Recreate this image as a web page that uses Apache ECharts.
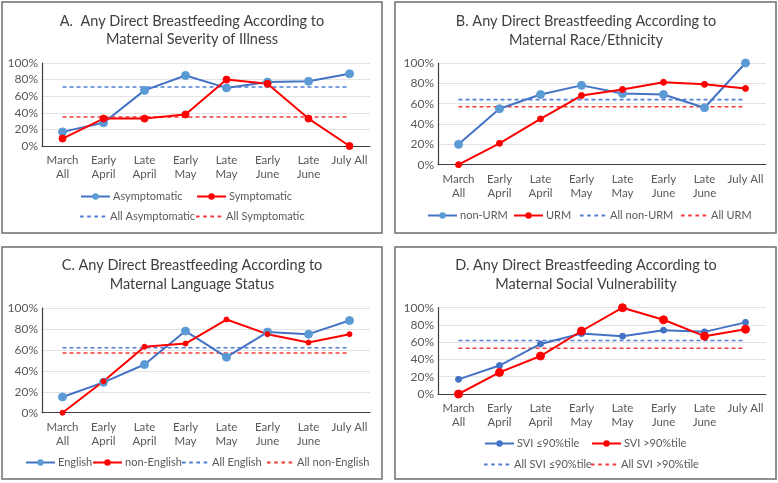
<!DOCTYPE html>
<html>
<head>
<meta charset="utf-8">
<script src="https://cdn.jsdelivr.net/npm/echarts@6/dist/echarts.min.js"></script>
<style>
html,body{margin:0;padding:0;background:#fff;}
#c{width:778px;height:483px;}
</style>
</head>
<body>
<div id="c"></div>
<script>
// ---- Data ----
const categories = ['March\nAll', 'Early\nApril', 'Late\nApril', 'Early\nMay', 'Late\nMay', 'Early\nJune', 'Late\nJune', 'July All'];
const yTicks = [0, 20, 40, 60, 80, 100];

// Panel A
const asymptomatic = [17, 28, 67, 85, 70, 77, 78, 87];
const symptomatic = [9, 33, 33, 38, 80, 75, 33, 0];
const allAsymptomatic = 71;
const allSymptomatic = 35;

// Panel B
const nonURM = [20, 55, 69, 78, 70, 69, 56, 100];
const URM = [0, 21, 45, 68, 74, 81, 79, 75];
const allNonURM = 64;
const allURM = 57;

// Panel C
const english = [15, 29, 46, 78, 53, 77, 75, 88];
const nonEnglish = [0, 30, 63, 66, 89, 75, 67, 75];
const allEnglish = 62;
const allNonEnglish = 57;

// Panel D
const sviLow = [17, 33, 58, 70, 67, 74, 72, 83];
const sviHigh = [0, 25, 44, 73, 100, 86, 67, 75];
const allSviLow = 62;
const allSviHigh = 53;

// ---- Styling / layout ----
const FONT = 'Lato';
const BLUE = '#4472C4';
const LBLUE = '#5B9BD5';
const RED = '#FF0000';
const DBLUE = '#4F7FD6';
const DRED = '#F23A3A';
const TXT = '#595959';
const DASH_ICON = 'path://M0,0h4v2h-4zM8,0h4v2h-4zM16,0h4v2h-4zM24,0h4v2h-4z';

const panels = [
  {title: 'A.  Any Direct Breastfeeding According to\nMaternal Severity of Illness', tx: 192, ty: 12,
   grid: {left: 42, top: 63, width: 328, height: 83},
   box: [2, 2, 380, 231],
   s1: {name: 'Asymptomatic', data: asymptomatic, color: BLUE, mcolor: LBLUE, size: 8},
   s2: {name: 'Symptomatic', data: symptomatic, color: RED, mcolor: RED, size: 7},
   d1: {name: 'All Asymptomatic', value: allAsymptomatic},
   d2: {name: 'All Symptomatic', value: allSymptomatic},
   leg: [[80, 198], [196, 198], [80, 218], [196, 218]]},
  {title: 'B. Any Direct Breastfeeding According to\nMaternal Race/Ethnicity', tx: 586, ty: 12.5,
   grid: {left: 438, top: 63, width: 328, height: 101.7},
   box: [395, 2, 381, 231],
   s1: {name: 'non-URM', data: nonURM, color: BLUE, mcolor: LBLUE, size: 8},
   s2: {name: 'URM', data: URM, color: RED, mcolor: RED, size: 6},
   d1: {name: 'All non-URM', value: allNonURM},
   d2: {name: 'All URM', value: allURM},
   leg: [[427, 217], [513, 217], [580, 217], [681, 217]]},
  {title: 'C. Any Direct Breastfeeding According to\nMaternal Language Status', tx: 192, ty: 256.5,
   grid: {left: 42, top: 308, width: 328, height: 104.7},
   box: [2, 247, 380, 232],
   s1: {name: 'English', data: english, color: BLUE, mcolor: LBLUE, size: 8},
   s2: {name: 'non-English', data: nonEnglish, color: RED, mcolor: RED, size: 5},
   d1: {name: 'All English', value: allEnglish},
   d2: {name: 'All non-English', value: allNonEnglish},
   leg: [[25, 464], [92, 464], [182, 464], [267, 464]]},
  {title: 'D. Any Direct Breastfeeding According to\nMaternal Social Vulnerability', tx: 586, ty: 256.5,
   grid: {left: 438, top: 307.7, width: 328, height: 86.3},
   box: [395, 247, 381, 232],
   s1: {name: 'SVI \u226490%tile', data: sviLow, color: BLUE, mcolor: BLUE, size: 6},
   s2: {name: 'SVI >90%tile', data: sviHigh, color: RED, mcolor: RED, size: 8},
   d1: {name: 'All SVI \u226490%tile', value: allSviLow},
   d2: {name: 'All SVI >90%tile', value: allSviHigh},
   leg: [[484, 445], [591, 445], [484, 466], [591, 466]]}
];

const option = {
  backgroundColor: '#fff',
  animation: false,
  textStyle: {fontFamily: FONT},
  title: [], grid: [], xAxis: [], yAxis: [], series: [], legend: [], graphic: []
};

panels.forEach((p, i) => {
  option.graphic.push({type: 'rect', shape: {x: p.box[0], y: p.box[1], width: p.box[2], height: p.box[3]},
    style: {fill: 'none', stroke: '#6E6E6E', lineWidth: 1.5}, z: 100});
  option.title.push({text: p.title, left: p.tx, top: p.ty, textAlign: 'center', padding: 0,
    textStyle: {fontFamily: FONT, fontSize: 14.5, fontWeight: 'normal', color: '#404040', lineHeight: 18.5}});
  option.grid.push(Object.assign({containLabel: false}, p.grid));
  option.xAxis.push({type: 'category', gridIndex: i, data: categories, boundaryGap: true,
    axisLine: {lineStyle: {color: '#404040', width: 1.2}}, axisTick: {show: false},
    axisLabel: {color: TXT, fontFamily: FONT, fontSize: 11.5, lineHeight: 13.5, margin: 8, interval: 0}});
  option.yAxis.push({type: 'value', gridIndex: i, min: 0, max: 100, interval: 20,
    axisLine: {show: true, lineStyle: {color: '#404040', width: 1.2}}, axisTick: {show: false},
    splitLine: {lineStyle: {color: '#E3E3E3', width: 1}},
    axisLabel: {color: TXT, fontFamily: FONT, fontSize: 12, margin: 4, formatter: '{value}%'}});
  const mk = (s) => ({name: s.name, type: 'line', xAxisIndex: i, yAxisIndex: i, data: s.data,
    symbol: 'circle', symbolSize: s.size, lineStyle: {color: s.color, width: 2},
    itemStyle: {color: s.mcolor, borderColor: s.mcolor}, z: 3});
  const dash = (d, color) => ({name: d.name, type: 'line', xAxisIndex: i, yAxisIndex: i,
    data: categories.map(() => d.value), symbol: 'none',
    lineStyle: {color: color, width: 1.6, type: [4, 3]}, itemStyle: {color: color}, z: 2});
  option.series.push(dash(p.d1, DBLUE), dash(p.d2, DRED), mk(p.s1), mk(p.s2));
  const items = [
    {n: p.s1.name, dashed: false}, {n: p.s2.name, dashed: false},
    {n: p.d1.name, dashed: true}, {n: p.d2.name, dashed: true}
  ];
  items.forEach((it, k) => {
    const lg = {data: [it.n], left: p.leg[k][0], top: p.leg[k][1] - 7, padding: 0,
      itemWidth: 29, itemHeight: 8, itemGap: 0, selectedMode: false,
      textStyle: {color: TXT, fontFamily: FONT, fontSize: 11, padding: [0, 0, 0, -2]}};
    if (it.dashed) { lg.icon = DASH_ICON; lg.itemHeight = 1.8; }
    option.legend.push(lg);
  });
});

const chart = echarts.init(document.getElementById('c'), null, {renderer: 'canvas'});
chart.setOption(option);
</script>
</body>
</html>
